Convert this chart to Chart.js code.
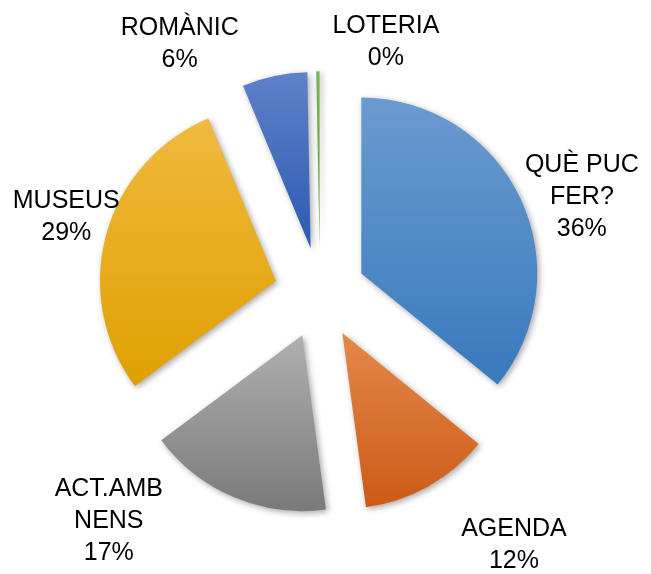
<!DOCTYPE html>
<html lang="ca">
<head>
    <meta charset="UTF-8">
    <title>Consultes per secció</title>
    <style>
        body {
            margin: 0;
            background: #fff;
        }
        .chart-box {
            width: 651px;
            height: 574px;
        }
    </style>
</head>
<body>
    <div class="chart-box">
        <canvas id="pieChart"></canvas>
    </div>

    <script src="https://cdn.jsdelivr.net/npm/chart.js"></script>
    <script>
        // Data
        const categories = [['QUÈ PUC', 'FER?'], 'AGENDA', ['ACT.AMB', 'NENS'], 'MUSEUS', 'ROMÀNIC', 'LOTERIA'];
        const shares = [36, 12, 17, 29, 6, 0.3];

        // Styling (gradient top -> bottom per slice)
        const lightColors = ['#6a9bd0', '#e4884b', '#b0b0b0', '#f1b93e', '#5e82c9', '#7bb555'];
        const darkColors = ['#3a79bd', '#cc5b16', '#7a7a7a', '#dfa000', '#2c59b3', '#5e9a3a'];
        // label anchor: angle (deg, clockwise from top) and distance in radii from pie centre
        const labelAngles = [69.9, 142.4, 222.8, 286.7, 330.6, 14.7];
        const labelDists = [1.585, 1.807, 1.767, 1.506, 1.625, 1.477];

        const total = shares.reduce((a, b) => a + b, 0);

        // draws each slice pulled away from the centre, with a shadow and gradient
        const explodePlugin = {
            id: 'explode',
            beforeDatasetDraw(chart, args, opts) {
                const ctx = chart.ctx;
                args.meta.data.forEach((arc, i) => {
                    const p = arc.getProps(['x', 'y', 'startAngle', 'endAngle', 'outerRadius']);
                    const mid = (p.startAngle + p.endAngle) / 2;
                    const d = p.outerRadius * opts.distance;
                    let top = p.y, bottom = p.y;
                    for (let k = 0; k <= 40; k++) {
                        const a = p.startAngle + (p.endAngle - p.startAngle) * k / 40;
                        const py = p.y + Math.sin(a) * p.outerRadius;
                        top = Math.min(top, py);
                        bottom = Math.max(bottom, py);
                    }
                    const grad = ctx.createLinearGradient(0, top, 0, bottom);
                    grad.addColorStop(0, lightColors[i]);
                    grad.addColorStop(1, darkColors[i]);
                    arc.options = Object.assign({}, arc.options, { backgroundColor: grad, offset: 0, borderWidth: 0 });

                    ctx.save();
                    ctx.shadowColor = 'rgba(0,0,0,0.35)';
                    ctx.shadowBlur = 6;
                    ctx.shadowOffsetX = 2;
                    ctx.shadowOffsetY = 2;
                    ctx.translate(Math.cos(mid) * d, Math.sin(mid) * d);
                    arc.draw(ctx, chart.chartArea);
                    ctx.restore();
                });
                return false;
            }
        };

        const labelPlugin = {
            id: 'sliceLabels',
            afterDatasetsDraw(chart) {
                const ctx = chart.ctx;
                const meta = chart.getDatasetMeta(0);
                ctx.save();
                ctx.font = '25px "Liberation Sans", Arial, sans-serif';
                ctx.fillStyle = '#000';
                ctx.textAlign = 'center';
                ctx.textBaseline = 'middle';
                const lineH = 32;
                meta.data.forEach((arc, i) => {
                    const p = arc.getProps(['x', 'y', 'outerRadius']);
                    const ang = labelAngles[i] * Math.PI / 180;
                    const cx = p.x + Math.sin(ang) * p.outerRadius * labelDists[i];
                    const cy = p.y - Math.cos(ang) * p.outerRadius * labelDists[i];
                    const name = chart.data.labels[i];
                    const lines = (Array.isArray(name) ? name.slice() : [name]);
                    lines.push(Math.round(shares[i] / total * 100) + '%');
                    const y0 = cy - (lines.length - 1) * lineH / 2;
                    lines.forEach((t, k) => ctx.fillText(t, cx, y0 + k * lineH));
                });
                ctx.restore();
            }
        };

        new Chart(document.getElementById('pieChart'), {
            type: 'pie',
            data: {
                labels: categories,
                datasets: [{
                    data: shares,
                    backgroundColor: darkColors,
                    borderWidth: 0
                }]
            },
            options: {
                responsive: true,
                maintainAspectRatio: false,
                animation: false,
                radius: '62.6%',
                layout: {
                    padding: { left: 0, right: 11, top: 12, bottom: 0 }
                },
                plugins: {
                    legend: { display: false },
                    tooltip: { enabled: false },
                    explode: { distance: 0.26 }
                }
            },
            plugins: [explodePlugin, labelPlugin]
        });
    </script>
</body>
</html>
